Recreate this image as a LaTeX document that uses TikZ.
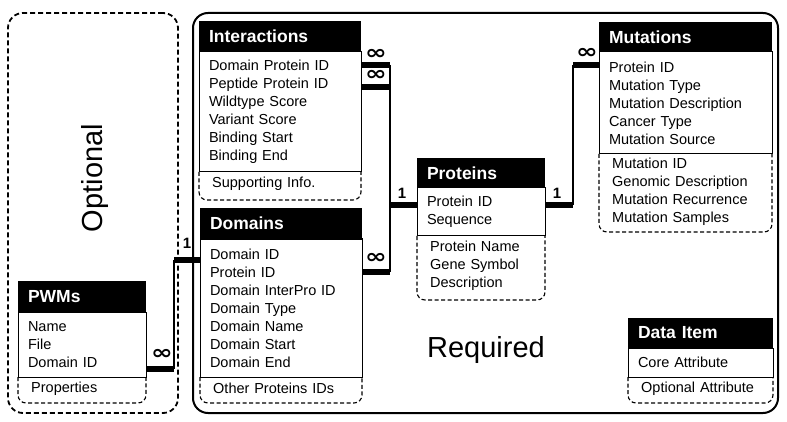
\documentclass[tikz,border=0pt]{standalone}
\usepackage{fontspec}
\setmainfont{Liberation Sans}
\newfontfamily\symfont{DejaVu Sans}
\newcommand\infsym{\scalebox{1.3}[1]{∞}}
\begin{document}
\begin{tikzpicture}[x=1pt,y=-1pt,
  hdr/.style={fill=black, text=white, font=\bfseries\fontsize{17.5}{20}\selectfont, anchor=north west, inner xsep=10pt, inner ysep=0pt, align=left, minimum height=31pt, outer sep=0pt},
  core/.style={draw, line width=1pt, anchor=north west, inner xsep=10pt, inner ysep=0pt, align=left, font=\fontsize{14.5}{18}\selectfont, outer sep=0pt},
  optbox/.style={anchor=north west, inner sep=0pt, outer sep=0pt},
  opttext/.style={anchor=north west, inner xsep=13pt, inner ysep=0pt, align=left, font=\fontsize{14.5}{18}\selectfont},
  optline/.style={line width=1.1pt, rounded corners=8pt, dash pattern=on 4pt off 2.5pt},
  bar/.style={line width=5.5pt},
  link/.style={line width=1.3pt},
  card/.style={font=\symfont\bfseries\fontsize{20}{20}\selectfont, inner sep=0pt},
  one/.style={font=\bfseries\fontsize{15}{15}\selectfont, inner sep=0pt},
  big/.style={font=\fontsize{29}{29}\selectfont, inner sep=0pt}
]
\useasboundingbox (0,0) rectangle (787,422);

% containers
\node[draw, line width=1.8pt, dash pattern=on 5pt off 3pt, rounded corners=15pt, anchor=north west, minimum width=170pt, minimum height=400pt, outer sep=0pt] (optc) at (8,13) {};
\node[draw, line width=2pt, rounded corners=15pt, anchor=north west, minimum width=585pt, minimum height=400pt, outer sep=0pt] (reqc) at (193,13) {};
\node[big, rotate=90] (optlabel) at (95,178) {Optional};
\node[big] (reqlabel) at (486,350) {Required};

% Interactions
\node[hdr, text width=142pt] (inth) at (199,21) {Interactions};
\node[core, text width=142pt, minimum height=120pt] (intb) at (inth.south west) {Domain Protein ID\\Peptide Protein ID\\Wildtype Score\\Variant Score\\Binding Start\\Binding End};
\node[optbox, minimum width=162pt, minimum height=28pt] (into) at (intb.south west) {};
\node[opttext, text width=136pt] (intot) at ([yshift=-5pt]into.north west) {Supporting Info.};
\draw[optline] (into.north west) -- (into.south west) -- (into.south east) -- (into.north east);

% Domains
\node[hdr, text width=142pt] (domh) at (200,208) {Domains};
\node[core, text width=142pt, minimum height=138pt] (domb) at (domh.south west) {Domain ID\\Protein ID\\Domain InterPro ID\\Domain Type\\Domain Name\\Domain Start\\Domain End};
\node[optbox, minimum width=162pt, minimum height=26pt] (domo) at (domb.south west) {};
\node[opttext, text width=136pt] (domot) at ([yshift=-6pt]domo.north west) {Other Proteins IDs};
\draw[optline] (domo.north west) -- (domo.south west) -- (domo.south east) -- (domo.north east);

% PWMs
\node[hdr, text width=108pt] (pwmh) at (18,281) {PWMs};
\node[core, text width=108pt, minimum height=65pt] (pwmb) at (pwmh.south west) {Name\\File\\Domain ID};
\node[optbox, minimum width=128pt, minimum height=26pt] (pwmo) at (pwmb.south west) {};
\node[opttext, text width=102pt] (pwmot) at ([yshift=-5pt]pwmo.north west) {Properties};
\draw[optline] (pwmo.north west) -- (pwmo.south west) -- (pwmo.south east) -- (pwmo.north east);

% Proteins
\node[hdr, text width=108pt, minimum height=30pt] (proth) at (417,158) {Proteins};
\node[core, text width=108pt, minimum height=48pt] (protb) at (proth.south west) {Protein ID\\Sequence};
\node[optbox, minimum width=128pt, minimum height=64pt] (proto) at (protb.south west) {};
\node[opttext, text width=102pt] (protot) at ([yshift=-5pt]proto.north west) {Protein Name\\Gene Symbol\\Description};
\draw[optline] (proto.north west) -- (proto.south west) -- (proto.south east) -- (proto.north east);

% Mutations
\node[hdr, text width=153pt, minimum height=30pt] (muth) at (599,22) {Mutations};
\node[core, text width=153pt, minimum height=102pt] (mutb) at (muth.south west) {Protein ID\\Mutation Type\\Mutation Description\\Cancer Type\\Mutation Source};
\node[optbox, minimum width=173pt, minimum height=78pt] (muto) at (mutb.south west) {};
\node[opttext, text width=147pt] (mutot) at ([yshift=-4pt]muto.north west) {Mutation ID\\Genomic Description\\Mutation Recurrence\\Mutation Samples};
\draw[optline] (muto.north west) -- (muto.south west) -- (muto.south east) -- (muto.north east);

% Data Item legend
\node[hdr, text width=125pt, minimum height=30pt] (dath) at (628,318) {Data Item};
\node[core, text width=125pt, minimum height=29pt] (datb) at (dath.south west) {Core Attribute};
\node[optbox, minimum width=145pt, minimum height=26pt] (dato) at (datb.south west) {};
\node[opttext, text width=119pt] (datot) at ([yshift=-5pt]dato.north west) {Optional Attribute};
\draw[optline] (dato.north west) -- (dato.south west) -- (dato.south east) -- (dato.north east);

% connectors: Interactions / Domains -- Proteins
\coordinate (ja) at (390,65);
\coordinate (jb) at (390,87);
\coordinate (jc) at (390,205);
\coordinate (jd) at (390,272);
\draw[link] (ja) -- (jd);
\draw[bar] (intb.east |- ja) -- (ja);
\draw[bar] (intb.east |- jb) -- (jb);
\draw[bar] (jc) -- (protb.west |- jc);
\draw[bar] (domb.east |- jd) -- (jd);

% Proteins -- Mutations
\coordinate (jm1) at (573,205);
\coordinate (jm2) at (573,65);
\draw[link] (jm1) -- (jm2);
\draw[bar] (protb.east |- jm1) -- (jm1);
\draw[bar] (jm2) -- (mutb.west |- jm2);

% PWMs -- Domains
\coordinate (jp1) at (174,369);
\coordinate (jp2) at (174,260);
\draw[link] (jp1) -- (jp2);
\draw[bar] (pwmb.east |- jp1) -- (jp1);
\draw[bar] (jp2) -- (domb.west |- jp2);

% cardinalities
\node[card] (c1) at (376,54) {\infsym};
\node[card] (c2) at (376,75) {\infsym};
\node[card] (c3) at (376,258) {\infsym};
\node[card] (c4) at (587,53) {\infsym};
\node[card] (c5) at (162,354) {\infsym};
\node[one] (o1) at (402,193) {1};
\node[one] (o2) at (557,193) {1};
\node[one] (o3) at (187,243) {1};
\end{tikzpicture}
\end{document}
